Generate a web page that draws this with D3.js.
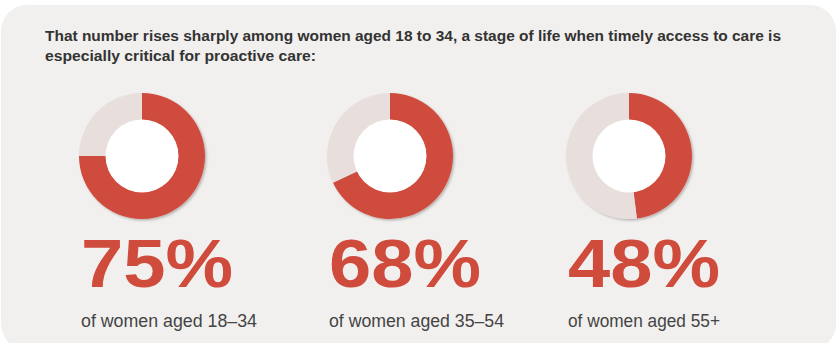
<!DOCTYPE html>
<html><head><meta charset="utf-8">
<script src="https://cdn.jsdelivr.net/npm/d3@7"></script>
<style>html,body{margin:0;padding:0;background:#fff;}svg{display:block;}</style>
</head><body>
<div id="chart"></div>
<script>
const titleLines = ["That number rises sharply among women aged 18 to 34, a stage of life when timely access to care is", "especially critical for proactive care:"];
const groups = ["of women aged 18–34", "of women aged 35–54", "of women aged 55+"];
const values = [75, 68, 48];

const W = 838, H = 343;
const svg = d3.select("#chart").append("svg").attr("width", W).attr("height", H);
const defs = svg.append("defs");
const f = defs.append("filter").attr("id","sh").attr("x","-20%").attr("y","-20%").attr("width","140%").attr("height","140%");
f.append("feDropShadow").attr("dx",1.5).attr("dy",1.5).attr("stdDeviation",1.2).attr("flood-color","#000").attr("flood-opacity",0.25);

svg.append("rect").attr("x",1).attr("y",5).attr("width",835).attr("height",345).attr("rx",26).attr("fill","#f2f0ee");

svg.selectAll("text.title").data(titleLines).join("text").attr("class","title")
  .attr("x",45).attr("y",(d,i)=>41+i*19.5)
  .attr("font-family","Liberation Sans, Arial, sans-serif").attr("font-weight","bold").attr("font-size",14.5)
  .attr("fill","#333")
  .attr("textLength",(d,i)=> i===0 ? 736 : 271).attr("lengthAdjust","spacingAndGlyphs")
  .text(d=>d);

const x = d3.scaleOrdinal().domain(d3.range(values.length)).range([142, 390, 629]);
const tx = d3.scaleOrdinal().domain(d3.range(values.length)).range([81, 329, 568]);
const pie = d3.pie().sort(null).value(d=>d);
const arc = d3.arc().innerRadius(36).outerRadius(63);

values.forEach((v,i)=>{
  const g = svg.append("g").attr("transform",`translate(${x(i)},156)`);
  const gg = g.append("g").attr("filter","url(#sh)");
  gg.selectAll("path").data(pie([v,100-v])).join("path").attr("d",arc)
    .attr("fill",(d,j)=> j===0 ? "#cf4b3c" : "#e8dfdd");
  g.append("circle").attr("r",36.5).attr("fill","#fff");
  svg.append("text").attr("x",tx(i)).attr("y",287)
    .attr("font-family","Liberation Sans, Arial, sans-serif").attr("font-weight","bold").attr("font-size",68)
    .attr("fill","#cf4b3c").attr("textLength",152).attr("lengthAdjust","spacingAndGlyphs")
    .text(v+"%");
  svg.append("text").attr("x",tx(i)).attr("y",327)
    .attr("font-family","Liberation Sans, Arial, sans-serif").attr("font-size",17.5)
    .attr("fill","#444")
    .attr("textLength", [176,175,152][i]).attr("lengthAdjust","spacingAndGlyphs")
    .text(groups[i]);
});
</script>
</body></html>
